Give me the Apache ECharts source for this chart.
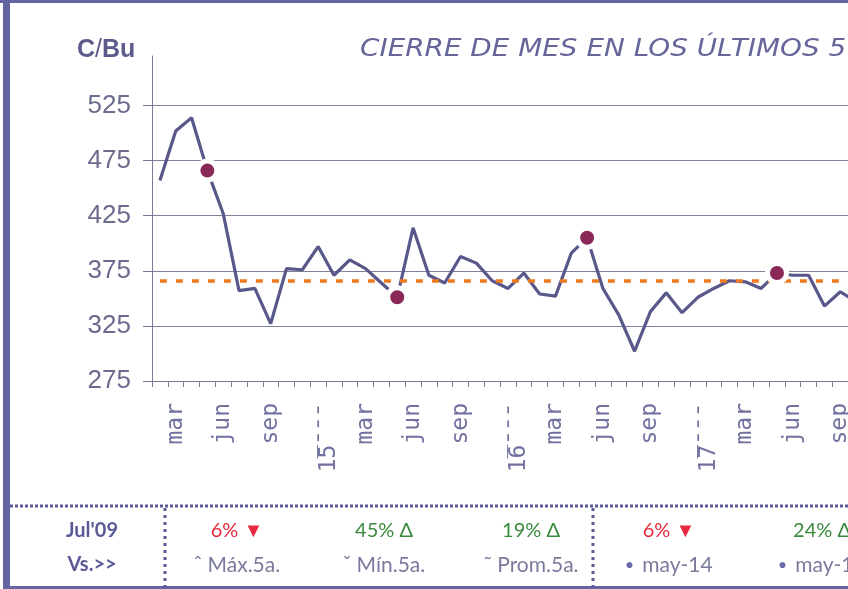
<!DOCTYPE html>
<html>
<head>
<meta charset="utf-8">
<script src="https://cdn.jsdelivr.net/npm/echarts@6/dist/echarts.min.js"></script>
<style>
  html, body { margin: 0; padding: 0; background: #fff; }
  #chart { width: 848px; height: 589px; }
</style>
</head>
<body>
<div id="chart"></div>
<script>
// meses (feb-14 .. oct-17), cierre de mes en C/Bu
const months = [
  "feb-14", "mar-14", "abr-14", "may-14", "jun-14", "jul-14", "ago-14", "sep-14", "oct-14", "nov-14", "dic-14",
  "ene-15", "feb-15", "mar-15", "abr-15", "may-15", "jun-15", "jul-15", "ago-15", "sep-15", "oct-15", "nov-15", "dic-15",
  "ene-16", "feb-16", "mar-16", "abr-16", "may-16", "jun-16", "jul-16", "ago-16", "sep-16", "oct-16", "nov-16", "dic-16",
  "ene-17", "feb-17", "mar-17", "abr-17", "may-17", "jun-17", "jul-17", "ago-17", "sep-17", "oct-17",
];
const closes = [
  457, 502, 514, 466, 427, 357, 359, 327, 377, 376, 397,
  371, 385, 377, 364, 351, 414, 371, 364, 388, 382, 366, 359,
  373, 354, 352, 391, 405, 359, 335, 302, 338, 355, 337, 351,
  359, 366, 365, 359, 373, 371, 371, 343, 356, 347,
];
const average5y = 366;
const markedMonth = "may";
const shownMonths = ["mar", "jun", "sep"];
const yearMonth = "ene";
const yTicks = [275, 325, 375, 425, 475, 525];

// tabla inferior
const tableHead = ["Jul'09", "Vs.>>"];
const tablePct = ["6%", "45%", "19%", "6%", "24%"];
const tableDir = ["▼", "Δ", "Δ", "▼", "Δ"];
const tableRef = ["ˆ Máx.5a.", "ˇ Mín.5a.", "˜ Prom.5a.", "may-14", "may-15"];

const colX = [237, 384, 531, 669, 822];
const frameColor = "#6464a0";

const chart = echarts.init(document.getElementById("chart"));

const marks = closes.map((v, i) => (months[i].startsWith(markedMonth) ? [months[i], v] : null)).filter(Boolean);

const tableGraphics = [];
tableHead.forEach((t, r) => {
  tableGraphics.push({
    type: "text",
    x: 92,
    y: 531 + r * 34,
    style: { text: t, font: "bold 20px Lato", fill: "#5a5a96", align: "center", verticalAlign: "middle" },
  });
});
tablePct.forEach((p, c) => {
  const down = tableDir[c] === "▼";
  tableGraphics.push({
    type: "text",
    x: colX[c],
    y: 531,
    style: {
      text: `${p} ${tableDir[c]}`,
      font: "20px Lato",
      fill: down ? "#e8283c" : "#3a8a3e",
      align: "center",
      verticalAlign: "middle",
    },
  });
  const isDate = c >= 3;
  tableGraphics.push({
    type: "text",
    x: colX[c],
    y: 565,
    style: {
      text: isDate ? `{b|●} ${tableRef[c]}` : tableRef[c],
      font: "21px Lato",
      fill: "#7a7a9e",
      align: "center",
      verticalAlign: "middle",
      rich: { b: { fontSize: 14, fill: "#6a6aa8", padding: [0, 3, 0, 0] } },
    },
  });
});

const option = {
  backgroundColor: "#fff",
  animation: false,
  grid: { left: 152, width: 712, top: 56, bottom: 208, containLabel: false, outerBoundsMode: "none" },
  xAxis: {
    type: "category",
    data: months,
    boundaryGap: true,
    axisLine: { lineStyle: { color: "#7a7a98", width: 1 } },
    axisTick: { show: true, interval: 0, length: 6, lineStyle: { color: "#7a7a98" } },
    axisLabel: {
      interval: (idx, val) => shownMonths.includes(val.slice(0, 3)) || val.startsWith(yearMonth),
      rotate: 90,
      margin: 22,
      fontFamily: "DejaVu Sans Mono",
      fontSize: 23,
      color: "#7272a0",
      formatter(val) {
        const m = val.slice(0, 3);
        if (m === yearMonth) {
          const yy = val.slice(4);
          return "{y|" + yy[0] + "\u0305" + yy[1] + "\u00AF\u00AF\u00AF}";
        }
        return m;
      },
      rich: {
        y: { fontFamily: "DejaVu Sans Mono", fontSize: 23, color: "#7272a0", padding: [0, 0, 10, 0] },
      },
    },
    splitLine: { show: false },
  },
  yAxis: {
    type: "value",
    min: 275,
    max: 570,
    interval: 50,
    axisLine: { show: true, lineStyle: { color: "#7a7a98", width: 1 } },
    axisTick: { show: true, length: 9, customValues: yTicks, lineStyle: { color: "#7a7a98" } },
    axisLabel: {
      customValues: yTicks,
      margin: 21,
      fontFamily: "Liberation Sans",
      fontSize: 26,
      color: "#6b6b8e",
    },
    splitLine: { show: true, lineStyle: { color: "#80809c", width: 1 } },
  },
  series: [
    {
      name: "cierre",
      type: "line",
      data: closes,
      symbol: "none",
      lineStyle: { color: "#58588a", width: 3.2 },
      z: 2,
      markLine: {
        silent: true,
        symbol: "none",
        label: { show: false },
        lineStyle: { color: "#f07a1e", width: 3.5, type: [7, 9] },
        data: [[{ coord: [months[0], average5y] }, { coord: [months[months.length - 1], average5y] }]],
      },
    },
    {
      name: "mayo",
      type: "scatter",
      data: marks,
      symbol: "circle",
      symbolSize: 19,
      itemStyle: { color: "#8a2858", borderColor: "#fff", borderWidth: 5, opacity: 1 },
      z: 5,
    },
  ],
  graphic: [
    { type: "rect", shape: { x: 0, y: 0, width: 848, height: 3 }, style: { fill: frameColor } },
    { type: "rect", shape: { x: 3, y: 0, width: 7, height: 589 }, style: { fill: frameColor } },
    { type: "rect", shape: { x: 3, y: 586, width: 848, height: 3 }, style: { fill: frameColor } },
    // caja blanca del título (tapa la línea superior)
    { type: "rect", shape: { x: 307, y: 34, width: 560, height: 34 }, style: { fill: "#fff" } },
    {
      type: "text",
      x: 360,
      y: 50,
      scaleX: 1.16,
      style: {
        text: "CIERRE DE MES EN LOS ÚLTIMOS 5 AÑOS",
        font: "italic 24px DejaVu Sans",
        fill: "#66669a",
        verticalAlign: "middle",
      },
    },
    {
      type: "text",
      x: 77,
      y: 50,
      style: {
        text: "{b|C}{s|/}{b|Bu}",
        verticalAlign: "middle",
        rich: {
          b: { font: "bold 25px Liberation Sans", fill: "#5c5c8c" },
          s: { font: "25px Liberation Sans", fill: "#5c5c8c" },
        },
      },
    },
    // separadores punteados
    { type: "line", shape: { x1: 10, y1: 506, x2: 848, y2: 506 }, style: { stroke: "#5a5a96", lineWidth: 3, lineDash: [3, 2] } },
    { type: "line", shape: { x1: 165, y1: 508, x2: 165, y2: 589 }, style: { stroke: "#5a5a96", lineWidth: 3, lineDash: [3, 4] } },
    { type: "line", shape: { x1: 593, y1: 508, x2: 593, y2: 589 }, style: { stroke: "#5a5a96", lineWidth: 3, lineDash: [3, 4] } },
    ...tableGraphics,
  ],
};

chart.setOption(option);
</script>
</body>
</html>
